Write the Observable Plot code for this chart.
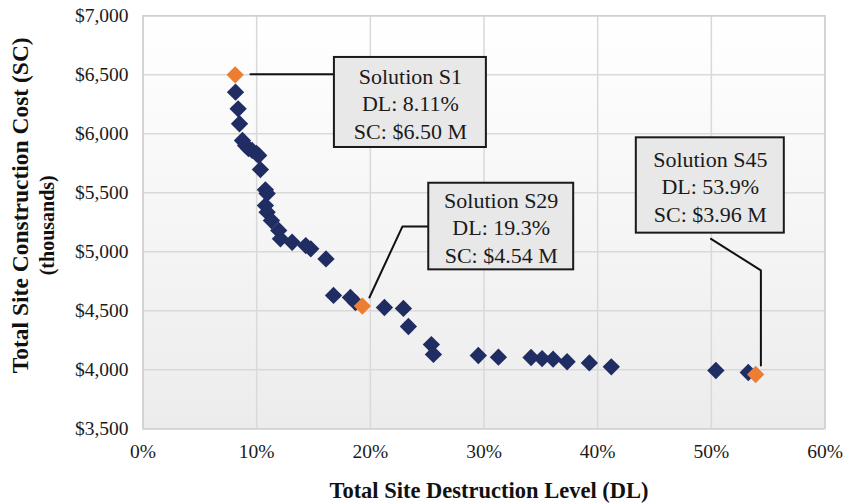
<!DOCTYPE html>
<html>
<head>
<meta charset="utf-8">
<script src="https://cdn.jsdelivr.net/npm/d3@7"></script>
<script src="https://cdn.jsdelivr.net/npm/@observablehq/plot@0.6"></script>
<style>
  html, body { margin: 0; padding: 0; background: #ffffff; }
  #chart { width: 844px; height: 504px; }
</style>
</head>
<body>
<div id="chart"></div>
<script>
// Pareto solutions: destruction level (%) and construction cost (thousands $)
const solutionDL = [8.14, 8.37, 8.49, 8.75, 9.02, 9.28, 9.6, 9.98, 10.18, 10.33, 10.77, 10.92, 10.77, 10.92, 11.3, 11.94, 12.09, 13.12, 14.32, 14.76, 16.1, 16.76, 18.25, 18.69, 21.24, 22.91, 23.35, 25.37, 25.55, 29.5, 31.27, 34.14, 35.11, 36.08, 37.31, 39.27, 41.2, 50.4, 53.25];
const solutionSC = [6353, 6212, 6085, 5943, 5901, 5875, 5859, 5833, 5816, 5697, 5525, 5494, 5392, 5336, 5265, 5181, 5110, 5081, 5053, 5025, 4940, 4630, 4613, 4570, 4528, 4520, 4367, 4214, 4130, 4121, 4107, 4104, 4095, 4090, 4068, 4058, 4025, 3994, 3977];

// Highlighted solutions
const highlightNames = ["S1", "S29", "S45"];
const highlightDL = [8.11, 19.3, 53.9];
const highlightSC = [6500, 4540, 3960];
const highlightText = ["Solution S1\nDL: 8.11%\nSC: $6.50 M", "Solution S29\nDL: 19.3%\nSC: $4.54 M", "Solution S45\nDL: 53.9%\nSC: $3.96 M"];

// Callout boxes (data units)
const boxX1 = [16.84, 25.14, 43.40];
const boxX2 = [30.21, 37.89, 56.42];
const boxY1 = [5884, 4847, 5158];
const boxY2 = [6647, 5581, 5966];

// Leader lines (data units), one polyline per callout
const leaderId = ["S1", "S1", "S29", "S29", "S29", "S45", "S45", "S45"];
const leaderDL = [9.45, 16.75, 19.92, 22.82, 25.14, 49.97, 54.36, 54.36];
const leaderSC = [6505, 6505, 4613, 5214, 5214, 5110, 4842, 4036];

// Ticks
const xTicks = [0, 10, 20, 30, 40, 50, 60];
const yTicks = [3500, 4000, 4500, 5000, 5500, 6000, 6500, 7000];

const xTitle = "Total Site Destruction Level (DL)";
const yTitle1 = "Total Site Construction Cost (SC)";
const yTitle2 = "(thousands)";

const points = solutionDL.map((d, i) => ({dl: d, sc: solutionSC[i]}));
const highlights = highlightNames.map((n, i) => ({name: n, dl: highlightDL[i], sc: highlightSC[i], text: highlightText[i]}));
const boxes = highlightNames.map((n, i) => ({
  x1: boxX1[i], x2: boxX2[i], y1: boxY1[i], y2: boxY2[i],
  cx: (boxX1[i] + boxX2[i]) / 2, cy: (boxY1[i] + boxY2[i]) / 2, text: highlightText[i]
}));
const leaders = leaderId.map((id, i) => ({id, dl: leaderDL[i], sc: leaderSC[i]}));

const fmtDollar = d3.format(",");

const svg = Plot.plot({
  width: 844,
  height: 504,
  marginLeft: 142.5,
  marginRight: 19.5,
  marginTop: 15.3,
  marginBottom: 75.7,
  style: {fontFamily: "'Liberation Serif', 'Times New Roman', serif", fontSize: "19.5px", color: "#1a1a1a", background: "#ffffff"},
  x: {domain: [0, 60], ticks: xTicks, tickFormat: d => d + "%", tickSize: 0, tickPadding: 15, label: null},
  y: {domain: [3500, 7000], ticks: yTicks, tickFormat: d => "$" + fmtDollar(d), tickSize: 0, tickPadding: 14.5, label: null},
  marks: [
    Plot.frame({fill: "url(#plotBg)", stroke: "none"}),
    Plot.ruleX(xTicks, {stroke: "#d9d9d9", strokeWidth: 1.5}),
    Plot.ruleY(yTicks, {stroke: "#d9d9d9", strokeWidth: 1.5}),
    Plot.frame({stroke: "#d0d0d0", strokeWidth: 1.5}),
    Plot.line(leaders, {x: "dl", y: "sc", z: "id", stroke: "#111", strokeWidth: 2}),
    Plot.dot(points, {x: "dl", y: "sc", symbol: "diamond2", r: 7.8, fill: "#1f2d63", stroke: "none"}),
    Plot.dot(highlights, {x: "dl", y: "sc", symbol: "diamond2", r: 7.8, fill: "#ed7d31", stroke: "none"}),
    Plot.rect(boxes, {x1: "x1", x2: "x2", y1: "y1", y2: "y2", fill: "#e8e8e8", stroke: "#1a1a1a", strokeWidth: 2}),
    Plot.text(boxes, {x: "cx", y: "cy", text: "text", fontSize: 22, lineHeight: 1.25, fill: "#1a1a1a", textAnchor: "middle", lineAnchor: "middle"}),
    Plot.text([xTitle], {frameAnchor: "bottom", dy: 61.7, dx: 5, text: d => d, fontSize: 22.5, fontWeight: "bold", fill: "#111", textAnchor: "middle", lineAnchor: "middle"}),
    Plot.text([yTitle1], {frameAnchor: "left", dx: -123, dy: -17, rotate: -90, text: d => d, fontSize: 23.5, fontWeight: "bold", fill: "#111", textAnchor: "middle", lineAnchor: "middle"}),
    Plot.text([yTitle2], {frameAnchor: "left", dx: -95.5, dy: 3, rotate: -90, text: d => d, fontSize: 20, fontWeight: "bold", fill: "#111", textAnchor: "middle", lineAnchor: "middle"})
  ]
});

svg.insertAdjacentHTML("afterbegin",
  '<defs><linearGradient id="plotBg" x1="0" y1="0" x2="0" y2="1">' +
  '<stop offset="0" stop-color="#ffffff"/><stop offset="1" stop-color="#ececec"/>' +
  '</linearGradient></defs>');

document.getElementById("chart").appendChild(svg);
</script>
</body>
</html>
